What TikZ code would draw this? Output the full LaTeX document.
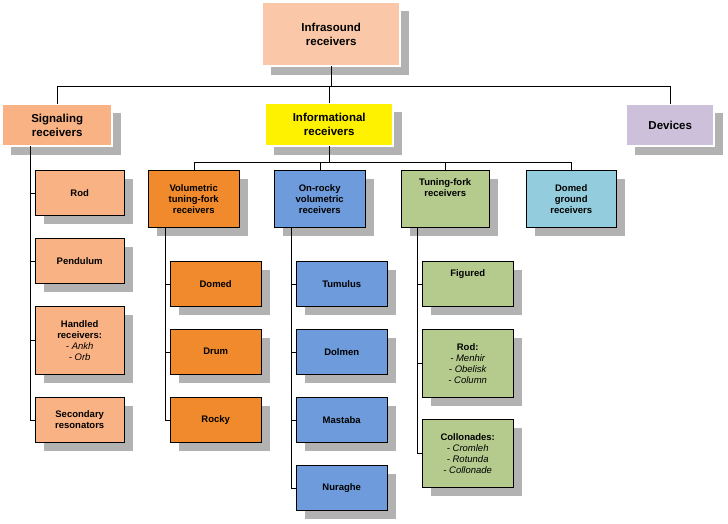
\documentclass[tikz,border=0pt]{standalone}
\usepackage{fontspec}
\setmainfont{Liberation Sans}
\usetikzlibrary{shadows,positioning}
\definecolor{peach}{HTML}{FAC8A8}
\definecolor{lorange}{HTML}{F9B283}
\definecolor{dorange}{HTML}{F08A2C}
\definecolor{lblue}{HTML}{6E9BDB}
\definecolor{lgreen}{HTML}{B5CB8E}
\definecolor{cyanish}{HTML}{93CDDD}
\definecolor{lavender}{HTML}{CCC0DA}
\tikzset{
  box/.style={draw=black, thin, font=\bfseries\fontsize{9.5}{11}\selectfont, align=center,
    inner sep=0pt, anchor=north west,
    drop shadow={shadow xshift=9pt, shadow yshift=-9pt, fill=black!30, opacity=1}},
  head/.style={box, double, double distance=1.5pt, font=\bfseries\fontsize{11.5}{14}\selectfont},
  link/.style={draw=black, thin}
}
\begin{document}
\begin{tikzpicture}[x=1pt,y=-1pt]
\useasboundingbox (0,0) rectangle (728,524);
% top level
\node[head, fill=peach, minimum width=138pt, minimum height=64pt] (root) at (262,2) {Infrasound\\receivers};
\node[head, fill=lorange, minimum width=110pt, minimum height=42pt] (sig) at (2,104) {Signaling\\receivers};
\node[head, fill=yellow, minimum width=128pt, minimum height=43pt] (inf) at (265,103) {Informational\\receivers};
\node[head, fill=lavender, minimum width=88pt, minimum height=42pt] (dev) at (626,104) {Devices};
% second level
\node[box, fill=dorange, minimum width=91pt, minimum height=57pt] (vol) at (148,170) {Volumetric\\tuning-fork\\receivers};
\node[box, fill=lblue, minimum width=91pt, minimum height=57pt] (onr) at (274,170) {On-rocky\\volumetric\\receivers};
\node[box, fill=lgreen, minimum width=88pt, minimum height=57pt] (tun) at (401,170) {Tuning-fork\\receivers\\[11pt]};
\node[box, fill=cyanish, minimum width=90pt, minimum height=57pt] (dgr) at (526,170) {Domed\\ground\\receivers};
% signaling children
\node[box, fill=lorange, minimum width=89pt, minimum height=45pt] (s1) at (35,170) {Rod};
\node[box, fill=lorange, minimum width=89pt, minimum height=45pt] (s2) at (35,238) {Pendulum};
\node[box, fill=lorange, minimum width=89pt, minimum height=68pt] (s3) at (35,306) {Handled\\receivers:\\\mdseries\itshape - Ankh\\\mdseries\itshape - Orb};
\node[box, fill=lorange, minimum width=89pt, minimum height=45pt] (s4) at (35,397) {Secondary\\resonators};
% volumetric children
\node[box, fill=dorange, minimum width=91pt, minimum height=45pt] (v1) at (170,261) {Domed};
\node[box, fill=dorange, minimum width=91pt, minimum height=45pt] (v2) at (170,329) {Drum};
\node[box, fill=dorange, minimum width=91pt, minimum height=45pt] (v3) at (170,397) {Rocky};
% on-rocky children
\node[box, fill=lblue, minimum width=91pt, minimum height=45pt] (r1) at (296,261) {Tumulus};
\node[box, fill=lblue, minimum width=91pt, minimum height=45pt] (r2) at (296,329) {Dolmen};
\node[box, fill=lblue, minimum width=91pt, minimum height=45pt] (r3) at (296,397) {Mastaba};
\node[box, fill=lblue, minimum width=91pt, minimum height=45pt] (r4) at (296,465) {Nuraghe};
% tuning-fork children
\node[box, fill=lgreen, minimum width=91pt, minimum height=45pt] (t1) at (422,261) {Figured\\[11pt]};
\node[box, fill=lgreen, minimum width=91pt, minimum height=68pt] (t2) at (422,329) {Rod:\\\mdseries\itshape - Menhir\\\mdseries\itshape - Obelisk\\\mdseries\itshape - Column};
\node[box, fill=lgreen, minimum width=91pt, minimum height=68pt] (t3) at (422,419) {Collonades:\\\mdseries\itshape - Cromleh\\\mdseries\itshape - Rotunda\\\mdseries\itshape - Collonade};
% connectors
\coordinate (bus1) at (0,86);
\draw[link] (root.south) -- (root.south |- bus1);
\draw[link] (sig.north |- bus1) -- (dev.north |- bus1);
\foreach \n in {sig,inf,dev} \draw[link] (\n.north |- bus1) -- (\n.north);
\coordinate (bus2) at (0,162);
\draw[link] (inf.south) -- (inf.south |- bus2);
\draw[link] (vol.north |- bus2) -- (dgr.north |- bus2);
\foreach \n in {vol,onr,tun,dgr} \draw[link] (\n.north |- bus2) -- (\n.north);
% side trees
\coordinate (sx) at (30,146);
\draw[link] (sx) -- (sx |- s4.west);
\foreach \c in {s1,s2,s3,s4} \draw[link] (sx |- \c.west) -- (\c.west);
\coordinate (vx) at (165,227);
\draw[link] (vx) -- (vx |- v3.west);
\foreach \c in {v1,v2,v3} \draw[link] (vx |- \c.west) -- (\c.west);
\coordinate (rx) at (291,227);
\draw[link] (rx) -- (rx |- r4.west);
\foreach \c in {r1,r2,r3,r4} \draw[link] (rx |- \c.west) -- (\c.west);
\coordinate (tx) at (417,227);
\draw[link] (tx) -- (tx |- t3.west);
\foreach \c in {t1,t2,t3} \draw[link] (tx |- \c.west) -- (\c.west);
\end{tikzpicture}
\end{document}
